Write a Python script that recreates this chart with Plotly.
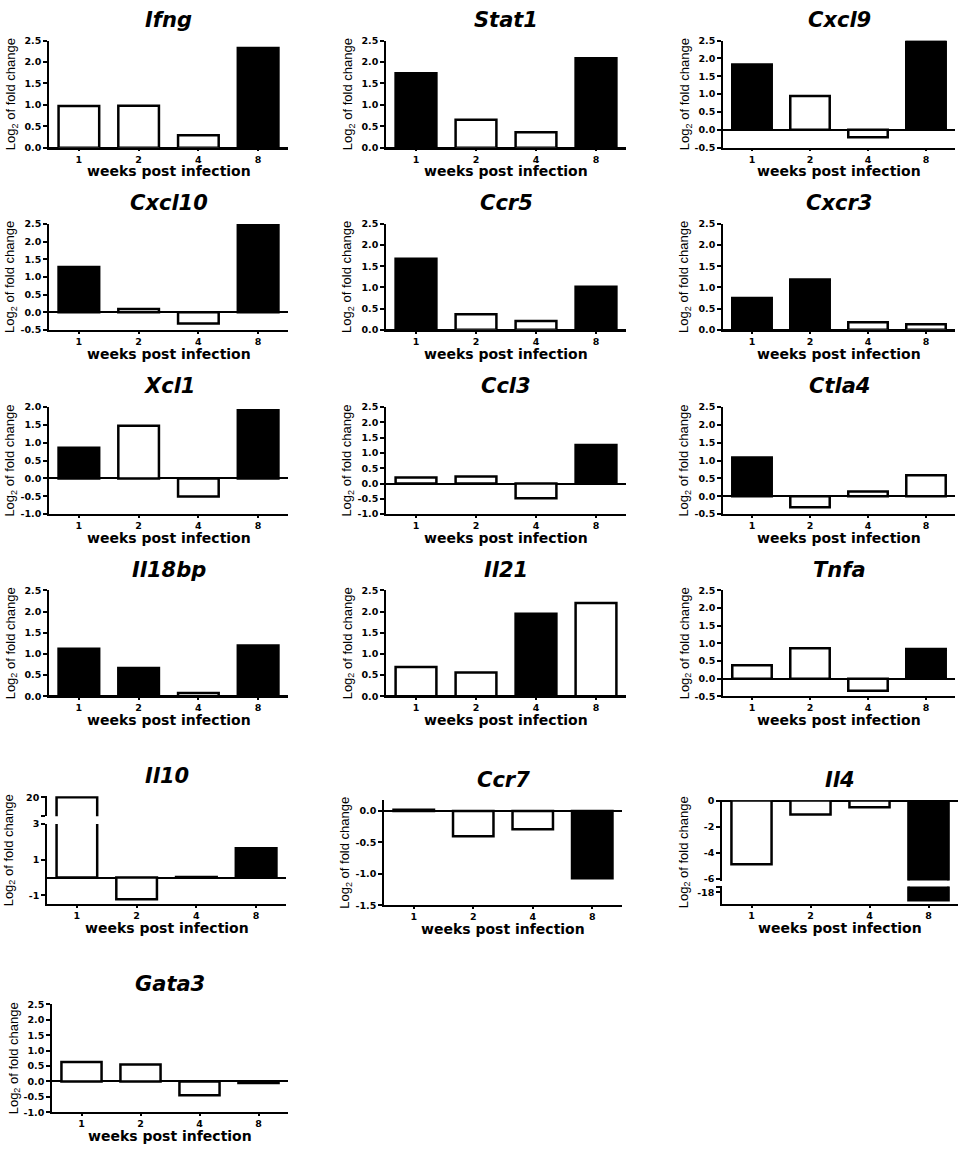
import plotly.graph_objects as go

# x categories (weeks post infection)
weeks = ["1", "2", "4", "8"]

# log2 fold change per gene, and which bars are filled black (significant)
ifng = [0.97, 0.98, 0.29, 2.33]
ifng_sig = [0, 0, 0, 1]
stat1 = [1.74, 0.65, 0.36, 2.09]
stat1_sig = [1, 0, 0, 1]
cxcl9 = [1.83, 0.95, -0.21, 2.53]
cxcl9_sig = [1, 0, 0, 1]
cxcl10 = [1.28, 0.09, -0.32, 2.52]
cxcl10_sig = [1, 0, 0, 1]
ccr5 = [1.68, 0.37, 0.21, 1.02]
ccr5_sig = [1, 0, 0, 1]
cxcr3 = [0.75, 1.19, 0.18, 0.13]
cxcr3_sig = [1, 1, 0, 0]
xcl1 = [0.86, 1.48, -0.51, 1.91]
xcl1_sig = [1, 0, 0, 1]
ccl3 = [0.20, 0.23, -0.48, 1.26]
ccl3_sig = [0, 0, 0, 1]
ctla4 = [1.09, -0.31, 0.13, 0.59]
ctla4_sig = [1, 0, 0, 0]
il18bp = [1.12, 0.67, 0.08, 1.20]
il18bp_sig = [1, 1, 0, 1]
il21 = [0.69, 0.56, 1.95, 2.20]
il21_sig = [0, 0, 1, 0]
tnfa = [0.38, 0.86, -0.34, 0.84]
tnfa_sig = [0, 0, 0, 1]
il10 = [20.0, -1.22, 0.03, 1.65]
il10_sig = [0, 0, 1, 1]
ccr7 = [0.02, -0.40, -0.29, -1.07]
ccr7_sig = [1, 0, 0, 1]
il4 = [-4.9, -1.07, -0.52, -18.6]
il4_sig = [0, 0, 0, 1]
gata3 = [0.63, 0.55, -0.45, -0.05]
gata3_sig = [0, 0, 0, 0]

W, H = 964, 1149


def fx(p):
    return p / W


def fy(p):
    return 1 - p / H


def ticks(lo, hi, step=0.5):
    vals, v = [], lo
    while v <= hi + 1e-9:
        vals.append(round(v, 2))
        v += step
    return vals, ["%.1f" % t for t in vals]


tick_font = dict(family="DejaVu Sans", size=9.5, color="black", weight="bold")
fig = go.Figure()
annotations = []
count = [0]


def add_segment(values, sig, x0, x1, y0, y1, yrange, tickvals, ticktext, show_x):
    count[0] += 1
    k = count[0]
    sfx = "" if k == 1 else str(k)
    colors = ["black" if s else "white" for s in sig]
    fig.add_trace(go.Bar(
        x=weeks, y=values, width=0.68,
        marker=dict(color=colors, line=dict(color="black", width=2.5)),
        xaxis="x" + sfx, yaxis="y" + sfx, showlegend=False,
    ))
    fig.update_layout(**{
        "xaxis" + sfx: dict(
            domain=[fx(x0), fx(x1)], anchor="y" + sfx, type="category",
            range=[-0.5, 3.5], showline=show_x, linecolor="black", linewidth=1.5,
            ticks="outside" if show_x else "", ticklen=2, tickwidth=1.5,
            tickcolor="black", showticklabels=show_x, tickfont=tick_font,
            showgrid=False, zeroline=False, fixedrange=True,
        ),
        "yaxis" + sfx: dict(
            domain=[fy(y1), fy(y0)], anchor="x" + sfx, range=yrange,
            tickmode="array", tickvals=tickvals, ticktext=ticktext,
            showline=True, linecolor="black", linewidth=1.5,
            ticks="outside", ticklen=4, tickwidth=1.5, tickcolor="black",
            tickfont=tick_font, showgrid=False,
            zeroline=True, zerolinecolor="black", zerolinewidth=1.5,
            fixedrange=True,
        ),
    })


def add_labels(name, x0, x1, ytop, ybot):
    xc = (x0 + x1) / 2
    annotations.append(dict(
        text="<b><i>%s</i></b>" % name, x=fx(xc), y=fy(ytop - 21),
        xref="paper", yref="paper", showarrow=False,
        xanchor="center", yanchor="middle",
        font=dict(family="DejaVu Sans", size=21, color="black"),
    ))
    annotations.append(dict(
        text="Log<sub>2</sub> of fold change", x=fx(x0 - 38), y=fy((ytop + ybot) / 2),
        xref="paper", yref="paper", showarrow=False, textangle=-90,
        xanchor="center", yanchor="middle",
        font=dict(family="Liberation Sans", size=13, color="black"),
    ))
    annotations.append(dict(
        text="<b>weeks post infection</b>", x=fx(xc), y=fy(ybot + 24),
        xref="paper", yref="paper", showarrow=False,
        xanchor="center", yanchor="middle",
        font=dict(family="DejaVu Sans", size=14, color="black"),
    ))


cols = [(49, 288), (386, 626), (723, 955)]
rows = [(35, 143), (220, 327), (405, 513), (590, 697)]

simple = [
    ("Ifng", ifng, ifng_sig, 0, 0, (0.0, 2.5)),
    ("Stat1", stat1, stat1_sig, 0, 1, (0.0, 2.5)),
    ("Cxcl9", cxcl9, cxcl9_sig, 0, 2, (-0.5, 2.5)),
    ("Cxcl10", cxcl10, cxcl10_sig, 1, 0, (-0.5, 2.5)),
    ("Ccr5", ccr5, ccr5_sig, 1, 1, (0.0, 2.5)),
    ("Cxcr3", cxcr3, cxcr3_sig, 1, 2, (0.0, 2.5)),
    ("Xcl1", xcl1, xcl1_sig, 2, 0, (-1.0, 2.0)),
    ("Ccl3", ccl3, ccl3_sig, 2, 1, (-1.0, 2.5)),
    ("Ctla4", ctla4, ctla4_sig, 2, 2, (-0.5, 2.5)),
    ("Il18bp", il18bp, il18bp_sig, 3, 0, (0.0, 2.5)),
    ("Il21", il21, il21_sig, 3, 1, (0.0, 2.5)),
    ("Tnfa", tnfa, tnfa_sig, 3, 2, (-0.5, 2.5)),
]

for name, vals, sig, r, c, (lo, hi) in simple:
    x0, x1 = cols[c]
    y0, y1 = rows[r]
    tv, tt = ticks(lo, hi)
    add_segment(vals, sig, x0, x1, y0, y1, [lo, hi], tv, tt, True)
    add_labels(name, x0, x1, y0, y1)

# Il10: broken y axis (upper piece around 20, lower piece -1.5..3)
add_segment(il10, il10_sig, 47, 286, 798, 818, [18.9, 20.05],
            [18.93, 20], ["", "20"], False)
add_segment(il10, il10_sig, 47, 286, 826, 907, [-1.5, 3.0],
            [-1, 1, 3], ["-1", "1", "3"], True)
add_labels("Il10", 47, 286, 798, 907)

# Ccr7
tv, tt = ticks(-1.5, 0.0)
add_segment(ccr7, ccr7_sig, 384, 622, 802, 908, [-1.5, 0.17], tv, tt, True)
add_labels("Ccr7", 384, 622, 802, 908)

# Il4: broken y axis (upper piece -6..0, lower piece around -18)
add_segment(il4, il4_sig, 722, 958, 802, 883, [-6.15, 0.02],
            [0, -2, -4, -6], ["0", "-2", "-4", "-6"], False)
add_segment(il4, il4_sig, 722, 958, 889, 907, [-18.92, -17.54],
            [-17.57, -18], ["", "-18"], True)
add_labels("Il4", 722, 958, 802, 907)

# Gata3
tv, tt = ticks(-1.0, 2.5)
add_segment(gata3, gata3_sig, 52, 288, 1008, 1117, [-1.0, 2.5], tv, tt, True)
add_labels("Gata3", 52, 288, 1008, 1117)

fig.update_layout(
    width=W, height=H,
    margin=dict(l=0, r=0, t=0, b=0),
    plot_bgcolor="white", paper_bgcolor="white",
    annotations=annotations,
    bargap=0.3,
)

# drop the default page margin so the figure sits at the window origin
fig.write_html("out.html", config={"displayModeBar": False},
               post_script="document.body.style.margin='0px';")
